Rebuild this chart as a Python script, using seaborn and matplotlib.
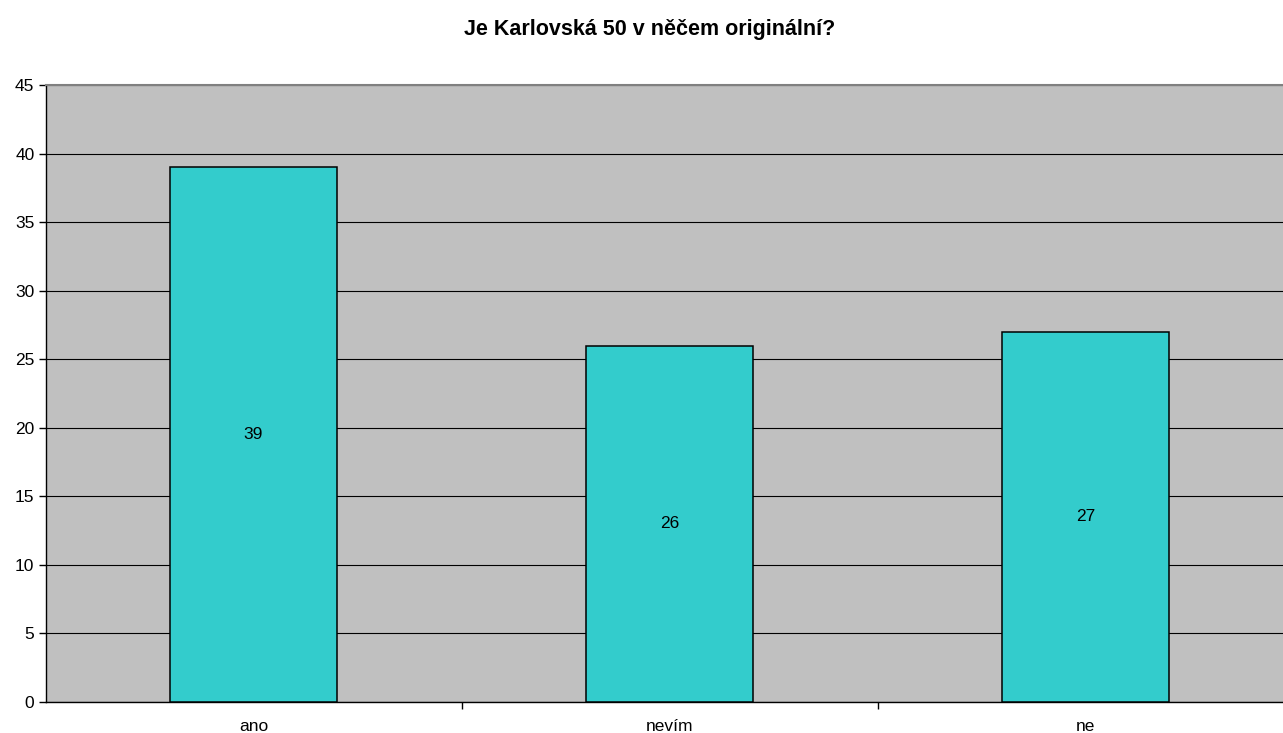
import matplotlib
matplotlib.use("Agg")
import matplotlib.pyplot as plt
import seaborn as sns
import pandas as pd

categories = ["ano", "nevím", "ne"]
values = [39, 26, 27]
title = "Je Karlovská 50 v něčem originální?"
yticks = [0, 5, 10, 15, 20, 25, 30, 35, 40, 45]

sns.set_theme(style="white")
plt.rcParams['font.family'] = ['Liberation Sans', 'DejaVu Sans']
plt.rcParams['text.color'] = 'black'
plt.rcParams['xtick.color'] = 'black'
plt.rcParams['ytick.color'] = 'black'
plt.rcParams['xtick.labelcolor'] = 'black'
plt.rcParams['ytick.labelcolor'] = 'black'

df = pd.DataFrame({"cat": categories, "val": values})

fig = plt.figure(figsize=(12.83, 7.33), dpi=100)
ax = fig.add_axes([45.5 / 1283, 31 / 733, 1248 / 1283, (702 - 85) / 733])
ax.set_facecolor("#C0C0C0")

sns.barplot(data=df, x="cat", y="val", color="#33CCCC", saturation=1, width=0.4,
            edgecolor="black", linewidth=1.1, ax=ax, zorder=3)

for c in ax.containers:
    ax.bar_label(c, label_type="center", fontsize=12.5, color="black")

ax.set_ylim(0, 45)
ax.set_xlim(-0.5, 2.5)
ax.set_yticks(yticks)
ax.set_yticklabels([str(v) for v in yticks], fontsize=12.5)
ax.yaxis.grid(True, color="black", linewidth=0.8, zorder=0)
ax.set_axisbelow(True)

ax.set_xticks(range(len(categories)))
ax.set_xticklabels(categories, fontsize=12.5)
ax.tick_params(axis="x", which="major", length=0, pad=12)
ax.set_xticks([0.5, 1.5], minor=True)
ax.tick_params(axis="x", which="minor", length=5, width=1, color="black", direction="out", bottom=True)
ax.tick_params(axis="y", length=5, width=1, color="black", direction="out", left=True, pad=3)

ax.set_xlabel("")
ax.set_ylabel("")

for s in ["left", "bottom"]:
    ax.spines[s].set_color("black")
    ax.spines[s].set_linewidth(1)
ax.spines["top"].set_color("#808080")
ax.spines["top"].set_linewidth(1.5)
ax.spines["right"].set_visible(False)

fig.text(650 / 1283, 1 - 35 / 733, title, ha="center", va="baseline", fontsize=15.5, fontweight="bold")

fig.savefig("out.png", dpi=100)
